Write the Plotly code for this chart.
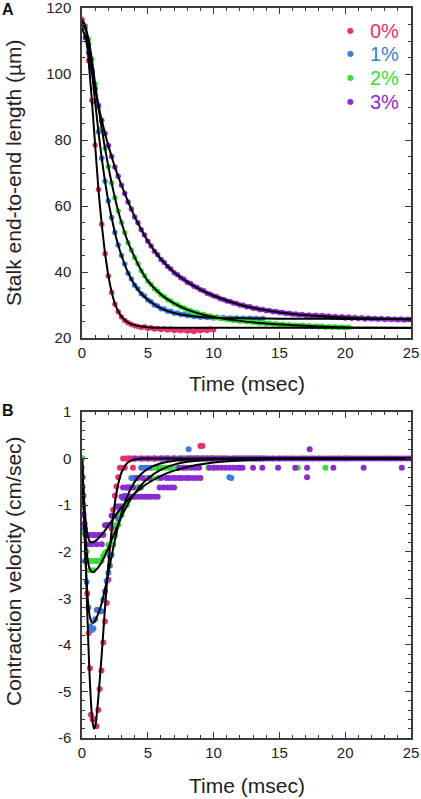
import plotly.graph_objects as go

# ---------------- DATA ----------------
series_names = ["0%", "1%", "2%", "3%"]
series_colors = ["#e5326c", "#3b7bdb", "#38dd38", "#8a2ccf"]

# Panel A: stalk end-to-end length (um), sampled every DT_A ms from t = 0
DT_A = 0.25
len_0pct = [116.5, 114.5, 104.0, 92.0, 78.5, 65.0, 54.5, 45.5, 38.8, 33.8,
            30.2, 28.0, 26.4, 25.3, 24.6, 24.1, 23.7, 23.5, 23.2, 23.4,
            22.9, 23.1, 22.7, 22.9, 22.6, 22.8, 22.4, 22.7, 22.3, 22.5,
            22.2, 22.5, 22.1, 22.3, 22.0, 22.4, 22.2, 22.6, 22.3, 22.7,
            22.5]
len_1pct = [115.5, 114.0, 109.0, 101.0, 91.5, 82.5, 74.5, 67.5, 61.5, 56.5,
            52.0, 48.2, 45.0, 42.4, 39.6, 37.9, 36.0, 34.9, 33.4, 32.7,
            31.5, 31.0, 30.0, 29.7, 28.9, 28.8, 28.1, 28.1, 27.5, 27.6,
            27.1, 27.2, 26.8, 26.9, 26.5, 26.7, 26.3, 26.5, 26.2, 26.4,
            26.1, 26.3, 26.0, 26.2, 25.9, 26.1, 25.9, 26.1, 25.8, 26.0,
            25.8, 26.0, 25.8, 25.9, 25.7, 25.9]
len_2pct = [115.0, 114.0, 110.5, 104.5, 97.0, 90.0, 83.5, 77.5, 72.0, 67.0,
            62.5, 58.5, 55.0, 51.9, 48.9, 46.7, 44.4, 42.5, 40.4, 38.9,
            37.2, 36.2, 34.9, 34.2, 33.1, 32.5, 31.6, 31.2, 30.4, 30.1,
            29.4, 29.1, 28.5, 28.3, 27.8, 27.7, 27.2, 27.1, 26.7, 26.7,
            26.3, 26.3, 25.9, 25.95, 25.6, 25.65, 25.3, 25.4, 25.1, 25.2,
            24.9, 25.0, 24.7, 24.8, 24.5, 24.6, 24.3, 24.45, 24.2, 24.3,
            24.0, 24.15, 23.9, 24.05, 23.8, 23.9, 23.7, 23.85, 23.6, 23.7,
            23.5, 23.65, 23.4, 23.55, 23.3, 23.45, 23.3, 23.4, 23.2, 23.35,
            23.1, 23.3]
len_3pct = [114.0, 111.0, 106.5, 100.8, 95.5, 90.5, 86.0, 82.0, 78.3, 75.0,
            71.8, 69.0, 66.3, 63.8, 61.2, 59.1, 56.7, 54.9, 52.8, 51.2,
            49.3, 47.9, 46.3, 45.2, 43.8, 42.9, 41.7, 40.9, 39.8, 39.2,
            38.3, 37.8, 36.9, 36.5, 35.7, 35.3, 34.6, 34.3, 33.6, 33.3,
            32.7, 32.5, 31.9, 31.7, 31.2, 31.1, 30.6, 30.5, 30.0, 29.95,
            29.5, 29.45, 29.0, 29.0, 28.6, 28.65, 28.3, 28.35, 28.0, 28.05,
            27.7, 27.75, 27.4, 27.5, 27.2, 27.3, 27.0, 27.1, 26.8, 26.95,
            26.7, 26.9, 26.6, 26.8, 26.5, 26.65, 26.3, 26.55, 26.2, 26.45,
            26.1, 26.35, 26.0, 26.25, 25.9, 26.15, 25.8, 26.05, 25.75, 25.95,
            25.7, 25.9, 25.65, 25.85, 25.6, 25.8, 25.55, 25.75, 25.5, 25.7,
            25.6]

# Panel A: fitted curves
fit_time_A = [0, 0.25, 0.5, 0.75, 1, 1.25, 1.5, 1.75, 2, 2.25, 2.5, 2.75, 3,
              3.5, 4, 4.5, 5, 6, 7, 8, 9, 10, 12, 14, 16, 18, 20, 22, 25]
fit_len_0pct = [116.5, 114.5, 104, 92, 78.5, 65, 54.5, 45.8, 39, 34, 30.4, 28.1, 26.5,
                24.7, 23.9, 23.5, 23.3, 23.15, 23.1, 23.1, 23.1, 23.1, 23.1, 23.1, 23.1,
                23.1, 23.1, 23.1, 23.1]
fit_len_1pct = [115.5, 114, 109, 101, 91.5, 82.5, 74.5, 67.5, 61.5, 56.5, 52, 48.2, 45,
                39.8, 36.1, 33.5, 31.6, 29.0, 27.6, 26.85, 26.4, 26.15, 26.0, 25.9, 25.85,
                25.82, 25.8, 25.8, 25.8]
fit_len_2pct = [115, 114, 110.5, 104.5, 97, 90, 83.5, 77.5, 72, 67, 62.5, 58.5, 55,
                49, 44.5, 40.5, 37.3, 33.2, 30.5, 28.6, 27.3, 26.4, 25.2, 24.4, 23.9,
                23.5, 23.2, 23.1, 23.05]
fit_len_3pct = [114, 111, 106.5, 100.8, 95.5, 90.5, 86, 82, 78.3, 75, 71.8, 69, 66.3,
                61.3, 56.8, 52.9, 49.4, 43.9, 39.9, 37.0, 34.7, 32.8, 30.1, 28.4, 27.3,
                26.65, 26.2, 25.9, 25.6]

# Panel B: contraction velocity (cm/sec)
vel_time_0pct = [0.0, 0.05, 0.12, 0.2, 0.3, 0.4, 0.5, 0.6, 0.68, 0.8,
                 0.94, 1.1, 1.24, 1.34, 1.48, 1.62, 1.75, 1.88, 2.0, 2.12,
                 2.25, 2.37, 2.5, 2.62, 2.75, 2.88, 3.0, 3.12, 3.25, 3.37,
                 3.5, 3.62, 3.75, 3.87, 4.0, 4.25, 4.5, 4.75, 5.0, 5.25,
                 5.5, 5.75, 6.0, 6.25, 6.5, 6.75, 7.0, 7.25, 7.5, 7.75,
                 8.0, 8.25, 8.5, 8.75, 9.0, 9.15, 9.25, 9.5, 9.75, 10.0]
vel_0pct = [0.0, -0.4, -0.8, -1.5, -2.2, -2.9, -3.75, -4.5, -5.5, -5.6,
            -5.6, -5.75, -5.4, -4.95, -4.55, -3.95, -3.5, -3.1, -2.6, -2.1,
            -1.5, -1.1, -0.8, -0.6, -0.4, -0.2, -0.2, 0.0, -0.2, 0.0,
            0.0, 0.0, 0.0, -0.2, 0.0, 0.0, 0.0, 0.0, 0.0, 0.0,
            0.0, 0.0, 0.0, 0.0, 0.0, 0.0, 0.0, 0.0, 0.0, 0.0,
            0.0, 0.0, 0.0, 0.0, 0.27, 0.27, 0.0, 0.0, 0.0, 0.0]

vel_time_1pct = [0.0, 0.05, 0.12, 0.23, 0.35, 0.48, 0.62, 0.75, 0.87, 1.0,
                 1.12, 1.25, 1.37, 1.5, 1.62, 1.75, 1.87, 2.0, 2.12, 2.25,
                 2.37, 2.5, 2.62, 2.75, 2.87, 3.0, 3.12, 3.25, 3.4, 3.6,
                 3.75, 4.0, 4.25, 4.5, 4.75, 5.0, 5.25, 5.5, 5.75, 6.0,
                 6.25, 6.5, 6.75, 7.0, 7.25, 7.5, 7.75, 8.0, 8.1, 8.25,
                 8.5, 8.75, 9.0, 9.25, 9.5, 9.75, 10.0, 10.25, 10.5, 10.75,
                 11.0, 11.2, 11.35, 11.5, 11.75, 12.0, 12.25, 12.5, 12.75, 13.0,
                 13.25, 13.5, 13.75]
vel_1pct = [0.0, -0.6, -1.5, -2.2, -2.65, -3.2, -3.6, -3.68, -3.65, -3.45,
            -3.25, -3.25, -3.28, -3.28, -3.03, -2.85, -2.63, -2.45, -2.3, -2.07,
            -1.85, -1.65, -1.45, -1.3, -1.15, -1.03, -0.85, -0.8, -0.62, -0.62,
            -0.42, -0.42, -0.42, -0.2, -0.2, -0.2, -0.2, 0.0, -0.2, -0.2,
            0.0, 0.0, -0.2, 0.0, -0.2, 0.0, 0.0, 0.0, 0.2, 0.0,
            0.0, 0.0, 0.0, 0.0, 0.0, 0.0, 0.0, 0.0, 0.0, 0.0,
            0.0, -0.4, -0.42, 0.0, 0.0, 0.0, 0.0, 0.0, 0.0, 0.0,
            0.0, 0.0, 0.0]

vel_time_2pct = [0.0, 0.05, 0.12, 0.23, 0.35, 0.48, 0.6, 0.72, 0.85, 0.98,
                 1.1, 1.22, 1.35, 1.48, 1.6, 1.75, 1.87, 2.0, 2.12, 2.25,
                 2.38, 2.5, 2.63, 2.75, 2.9, 3.0, 3.12, 3.25, 3.4, 3.5,
                 3.65, 3.9, 4.15, 4.3, 4.5, 4.75, 5.0, 5.3, 5.5, 5.75,
                 6.0, 6.2, 6.45, 6.7, 7.0, 7.25, 7.5, 7.75, 8.0, 8.5,
                 8.9, 9.25, 9.6, 9.85, 10.0, 10.5, 11.0, 11.5, 12.0, 12.5,
                 13.0, 13.5, 14.0, 14.5, 15.0, 15.5, 16.0, 16.4, 16.75, 17.0,
                 17.5, 18.0, 18.5, 19.0, 19.5, 20.0, 20.25]
vel_2pct = [0.0, -0.4, -1.0, -1.6, -2.0, -2.2, -2.4, -2.2, -2.4, -2.2,
            -2.2, -2.2, -2.2, -2.2, -2.1, -2.03, -2.0, -1.85, -1.85, -1.85,
            -1.64, -1.64, -1.42, -1.42, -1.22, -1.22, -1.03, -1.03, -1.0, -0.82,
            -0.82, -0.82, -0.62, -0.62, -0.62, -0.42, -0.42, -0.42, -0.2, -0.42,
            -0.2, -0.2, -0.2, -0.2, 0.0, -0.2, 0.0, -0.2, 0.0, 0.0,
            0.0, 0.0, -0.2, 0.0, -0.2, 0.0, 0.0, 0.0, 0.0, 0.0,
            0.0, 0.0, 0.0, 0.0, 0.0, 0.0, 0.0, -0.2, 0.0, 0.0,
            0.0, 0.0, -0.2, 0.0, 0.0, 0.0, 0.0]

vel_time_3pct = [0.0, 0.05, 0.12, 0.2, 0.28, 0.4, 0.5, 0.62, 0.75, 0.87,
                 1.0, 1.12, 1.25, 1.37, 1.5, 1.62, 1.75, 1.87, 2.0, 2.12,
                 2.25, 2.37, 2.5, 2.62, 2.75, 2.87,
                 3.0, 3.25, 3.5, 3.75, 4.0, 4.25, 4.5, 4.75, 5.0, 5.25, 5.5, 5.75,
                 3.12, 3.4, 3.62, 3.87, 4.4, 5.9, 6.2, 6.5, 6.75, 7.0,
                 4.15, 4.6, 5.1, 6.0, 6.4, 6.6, 6.9, 7.1, 7.4, 7.6, 7.9, 8.1, 8.4, 8.7, 9.0,
                 7.4, 7.7, 8.0, 8.3, 8.6, 8.9, 9.7, 10.0, 10.3, 10.6, 10.9, 11.2,
                 11.5, 11.8, 12.0, 12.2, 13.0, 13.7, 14.9, 16.2, 17.1, 19.1, 21.4, 24.3,
                 4.0, 4.5, 5.0, 5.5, 6.0, 6.5, 7.0, 7.5, 8.0,
                 8.25, 8.5, 8.75, 9.0, 9.25, 9.5, 9.75, 10.0, 10.25, 10.5,
                 10.75, 11.0, 11.25, 11.5, 11.75, 12.0, 12.25, 12.5, 12.75, 13.0,
                 13.25, 13.5, 13.75, 14.0, 14.25, 14.5, 14.75, 15.0, 15.25, 15.5,
                 15.75, 16.0, 16.25, 16.5, 16.75, 17.0, 17.25, 17.5, 17.75, 18.0,
                 18.25, 18.5, 18.75, 19.0, 19.25, 19.5, 19.75, 20.0, 20.25, 20.5,
                 20.75, 21.0, 21.25, 21.5, 21.75, 22.0, 22.25, 22.5, 22.75, 23.0,
                 23.25, 23.5, 23.75, 24.0, 24.25, 24.5, 24.75, 25.0,
                 17.1, 17.3]
vel_3pct = [-0.4, -0.8, -1.2, -1.4, -1.64, -1.64, -1.84, -1.64, -1.84, -1.64,
            -1.64, -1.84, -1.64, -1.64, -1.84, -1.64, -1.43, -1.43, -1.43, -1.43,
            -1.23, -1.23, -1.23, -1.03, -1.03, -1.03,
            -0.82, -0.82, -0.82, -0.82, -0.82, -0.82, -0.82, -0.82, -0.82, -0.82, -0.82, -0.82,
            -0.62, -0.62, -0.62, -0.62, -0.62, -0.62, -0.62, -0.62, -0.62, -0.62,
            -0.42, -0.42, -0.42, -0.42, -0.42, -0.42, -0.42, -0.42, -0.42, -0.42, -0.42, -0.42, -0.42, -0.42, -0.42,
            -0.2, -0.2, -0.2, -0.2, -0.2, -0.2, -0.2, -0.2, -0.2, -0.2, -0.2, -0.2,
            -0.2, -0.2, -0.2, -0.2, -0.2, -0.2, -0.2, -0.2, -0.2, -0.2, -0.2, -0.2,
            0, 0, 0, 0, 0, 0, 0, 0, 0,
            0, 0, 0, 0, 0, 0, 0, 0, 0, 0,
            0, 0, 0, 0, 0, 0, 0, 0, 0, 0,
            0, 0, 0, 0, 0, 0, 0, 0, 0, 0,
            0, 0, 0, 0, 0, 0, 0, 0, 0, 0,
            0, 0, 0, 0, 0, 0, 0, 0, 0, 0,
            0, 0, 0, 0, 0, 0, 0, 0, 0, 0,
            0, 0, 0, 0, 0, 0, 0, 0,
            -0.4, 0.2]

# Panel B: fitted curves
fit_time_B = [0, 0.1, 0.25, 0.4, 0.5, 0.6, 0.75, 0.9, 1.0, 1.1, 1.25, 1.5, 1.75, 2.0,
              2.25, 2.5, 2.75, 3.0, 3.5, 4.0, 4.5, 5, 6, 7, 8, 10, 12, 15, 20, 25]
fit_vel_0pct = [0, -0.7, -2.0, -3.3, -4.1, -4.8, -5.5, -5.8, -5.75, -5.55, -5.1, -4.2, -3.2, -2.3,
                -1.55, -0.95, -0.55, -0.3, -0.08, -0.02, 0, 0, 0, 0, 0, 0, 0, 0, 0, 0]
fit_vel_1pct = [0, -0.9, -2.0, -2.85, -3.2, -3.4, -3.52, -3.52, -3.48, -3.42, -3.32, -3.1, -2.8, -2.45,
                -2.1, -1.75, -1.45, -1.18, -0.77, -0.5, -0.33, -0.22, -0.1, -0.045, -0.02, -0.005, 0, 0, 0, 0]
fit_vel_2pct = [0, -0.75, -1.6, -2.1, -2.28, -2.38, -2.43, -2.43, -2.41, -2.38, -2.33, -2.22, -2.08, -1.92,
                -1.75, -1.58, -1.41, -1.25, -0.97, -0.75, -0.57, -0.43, -0.24, -0.13, -0.07, -0.02, -0.005, 0, 0, 0]
fit_vel_3pct = [0, -0.6, -1.25, -1.6, -1.72, -1.78, -1.8, -1.79, -1.77, -1.75, -1.71, -1.63, -1.54, -1.44,
                -1.34, -1.24, -1.14, -1.05, -0.89, -0.75, -0.63, -0.53, -0.37, -0.26, -0.18, -0.085, -0.04, -0.012, -0.002, 0]

len_tick_vals = [20, 40, 60, 80, 100, 120]
vel_tick_vals = [1, 0, -1, -2, -3, -4, -5, -6]
vel_tick_text = ["1", "0", "-1", "-2", "-3", "-4", "-5", "-6"]
time_tick_vals = [0, 5, 10, 15, 20, 25]

# ---------------- FIGURE ----------------
len_series = [len_0pct, len_1pct, len_2pct, len_3pct]
fit_len_series = [fit_len_0pct, fit_len_1pct, fit_len_2pct, fit_len_3pct]
vel_t_series = [vel_time_0pct, vel_time_1pct, vel_time_2pct, vel_time_3pct]
vel_series = [vel_0pct, vel_1pct, vel_2pct, vel_3pct]
fit_vel_series = [fit_vel_0pct, fit_vel_1pct, fit_vel_2pct, fit_vel_3pct]

for a, b in zip(vel_t_series, vel_series):
    assert len(a) == len(b), (len(a), len(b))
for f in fit_len_series:
    assert len(f) == len(fit_time_A)
for f in fit_vel_series:
    assert len(f) == len(fit_time_B)

fig = go.Figure()
MS = 5.5
for vals, col, name in zip(len_series, series_colors, series_names):
    t = [round(i * DT_A, 4) for i in range(len(vals))]
    fig.add_trace(go.Scatter(x=t, y=vals, mode="markers", name=name,
                             marker=dict(size=MS, color=col, line=dict(width=0)),
                             xaxis="x", yaxis="y", showlegend=False))
for f in fit_len_series:
    fig.add_trace(go.Scatter(x=fit_time_A, y=f, mode="lines",
                             line=dict(color="black", width=2, shape="spline", smoothing=0.8),
                             xaxis="x", yaxis="y", showlegend=False))

for t, v, col, name in zip(vel_t_series, vel_series, series_colors, series_names):
    fig.add_trace(go.Scatter(x=t, y=v, mode="markers", name=name,
                             marker=dict(size=MS + 0.5, color=col, line=dict(width=0)),
                             xaxis="x2", yaxis="y2", showlegend=False))
for f in fit_vel_series:
    fig.add_trace(go.Scatter(x=fit_time_B, y=f, mode="lines",
                             line=dict(color="black", width=2, shape="spline", smoothing=0.8),
                             xaxis="x2", yaxis="y2", showlegend=False))

FONT = "Liberation Sans, Arial, Helvetica, sans-serif"
AX = "#3a3a3a"
common = dict(showline=True, linecolor=AX, linewidth=1.5, mirror="allticks",
              ticks="inside", ticklen=6, tickwidth=1.2, tickcolor=AX,
              showgrid=False, zeroline=False, automargin=False,
              ticklabeloverflow="allow",
              tickfont=dict(family=FONT, size=15, color="#222"))

fig.update_layout(
    width=421, height=799,
    margin=dict(l=82, r=10, t=8, b=61, autoexpand=False),
    paper_bgcolor="white", plot_bgcolor="white",
    font=dict(family=FONT, color="#222"),
    xaxis=dict(common, domain=[0, 1], range=[0, 25], anchor="y",
               tickvals=time_tick_vals, ticklabelstandoff=0,
               minor=dict(ticks="inside", ticklen=3, tickcolor=AX, dtick=1, tick0=0)),
    yaxis=dict(common, domain=[0.5479, 1], range=[20, 120], anchor="x",
               tickvals=len_tick_vals, ticklabelstandoff=6,
               minor=dict(ticks="inside", ticklen=3, tickcolor=AX, dtick=5, tick0=0)),
    xaxis2=dict(common, domain=[0, 1], range=[0, 25], anchor="y2",
                tickvals=time_tick_vals, ticklabelstandoff=0,
                minor=dict(ticks="inside", ticklen=3, tickcolor=AX, dtick=1, tick0=0)),
    yaxis2=dict(common, domain=[0, 0.4466], range=[-6, 1], anchor="x2",
                tickvals=vel_tick_vals, ticktext=vel_tick_text, ticklabelstandoff=6,
                minor=dict(ticks="inside", ticklen=3, tickcolor=AX, dtick=0.2, tick0=0)),
)

ann = []
TITLE_SIZE = 21
ann.append(dict(text="Stalk end-to-end length (\u00b5m)", xref="paper", yref="paper",
                x=0, y=0.774, xshift=-68, textangle=-90, showarrow=False,
                font=dict(family=FONT, size=TITLE_SIZE, color="#222"),
                xanchor="center", yanchor="middle"))
ann.append(dict(text="Contraction velocity (cm/sec)", xref="paper", yref="paper",
                x=0, y=0.2288, xshift=-68, textangle=-90, showarrow=False,
                font=dict(family=FONT, size=TITLE_SIZE, color="#222"),
                xanchor="center", yanchor="middle"))
ann.append(dict(text="Time (msec)", xref="paper", yref="paper",
                x=0.5, y=0.4863, showarrow=False,
                font=dict(family=FONT, size=TITLE_SIZE, color="#222"),
                xanchor="center", yanchor="middle"))
ann.append(dict(text="Time (msec)", xref="paper", yref="paper",
                x=0.5, y=-0.0644, showarrow=False,
                font=dict(family=FONT, size=TITLE_SIZE, color="#222"),
                xanchor="center", yanchor="middle"))
ann.append(dict(text="<b>A</b>", xref="paper", yref="paper", x=0, y=0.9973, xshift=-74,
                showarrow=False, font=dict(family=FONT, size=16, color="#111"),
                xanchor="center", yanchor="middle"))
ann.append(dict(text="<b>B</b>", xref="paper", yref="paper", x=0, y=0.4493, xshift=-74,
                showarrow=False, font=dict(family=FONT, size=16, color="#111"),
                xanchor="center", yanchor="middle"))

legend_y = [113.3, 106.2, 99.0, 91.6]
for name, col, ly in zip(series_names, series_colors, legend_y):
    ann.append(dict(text="\u25cf", xref="x", yref="y", x=20.42, y=ly, showarrow=False,
                    font=dict(family="DejaVu Sans", size=8, color=col),
                    xanchor="center", yanchor="middle"))
    ann.append(dict(text=name, xref="x", yref="y", x=23.0, y=ly - 0.2, showarrow=False,
                    font=dict(family=FONT, size=20, color=col),
                    xanchor="center", yanchor="middle"))

fig.update_layout(annotations=ann)
fig.write_html("out.html", config={"displayModeBar": False},
               post_script="document.body.style.margin='0';document.body.style.padding='0';"
                           "document.body.style.overflow='hidden';")
